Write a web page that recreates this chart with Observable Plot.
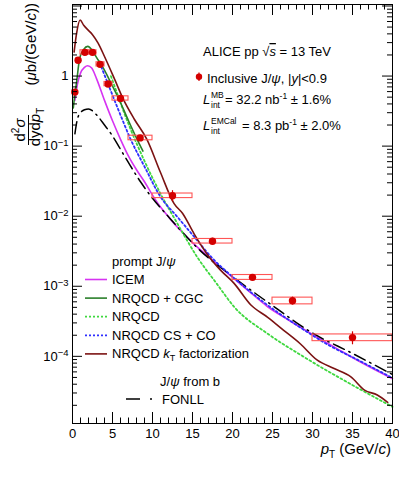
<!DOCTYPE html>
<html><head><meta charset="utf-8">
<script src="https://cdn.jsdelivr.net/npm/d3@7"></script>
<script src="https://cdn.jsdelivr.net/npm/@observablehq/plot@0.6"></script>
<style>
body{margin:0;background:#fff;}
#chart{width:399px;height:487px;}
svg{font-family:"Liberation Sans",Arial,Helvetica,sans-serif;}
</style></head><body><div id="chart"></div>
<script>
// ---- measured data: inclusive J/psi, ALICE pp 13 TeV ----
const binLo  = [0, 0.5, 1, 2, 3, 4, 5, 7, 10, 15, 20, 25, 30];
const binHi  = [0.5, 1, 2, 3, 4, 5, 7, 10, 15, 20, 25, 30, 40];
const ptMean = [0.3, 0.7, 1.55, 2.5, 3.45, 4.45, 6.0, 8.45, 12.5, 17.5, 22.5, 27.5, 35];
const xsec   = [0.59, 1.68, 2.18, 2.18, 1.47, 0.77, 0.48, 0.131, 0.0196, 0.0044, 0.00134, 0.00062, 0.000185];
const statRel = [0.04, 0.04, 0.03, 0.03, 0.03, 0.04, 0.05, 0.06, 0.18, 0.10, 0.09, 0.13, 0.21];
const systRel = [0.07, 0.07, 0.07, 0.07, 0.07, 0.07, 0.07, 0.075, 0.075, 0.075, 0.08, 0.11, 0.11];

// ---- model curves ----
const icemPt  = [0.3, 0.6, 1.0, 1.5, 1.9, 2.4, 3.0, 4.0, 5.0, 6.0, 7.0, 8.0, 9.0, 10, 11, 12, 13, 14, 15, 16, 18, 20, 22, 24.4, 27, 30, 33, 36, 40];
const icemVal = [0.45, 0.75, 1.1, 1.33, 1.4, 1.3, 0.92, 0.45, 0.23, 0.125, 0.072, 0.046, 0.031, 0.02, 0.0135, 0.0098, 0.0072, 0.0055, 0.0042, 0.0033, 0.0021, 0.00134, 0.00086, 0.00051, 0.00033, 0.000205, 0.00013, 0.000083, 0.000048];

const cgcPt  = [0.1, 0.3, 0.5, 0.9, 1.4, 1.9, 2.5, 3.0, 3.75, 4.8, 5.8, 7.0, 8.0, 8.8];
const cgcVal = [0.35, 0.55, 0.8, 1.8, 2.4, 2.65, 2.3, 1.85, 1.36, 0.8, 0.47, 0.23, 0.13, 0.085];

const nrqcdPt  = [4.8, 5.5, 6.5, 7.3, 8.95, 11, 13.1, 15.6, 18, 20.2, 24.4, 28.5, 34, 40];
const nrqcdVal = [1.0, 0.6, 0.29, 0.17, 0.063, 0.021, 0.0079, 0.0026, 0.0011, 0.00051, 0.00021, 0.000105, 0.000045, 0.000019];

const cscoPt  = [3.6, 4.9, 6.1, 7.2, 9.0, 11.0, 13.1, 15.2, 17.5, 20, 24, 28, 32, 36, 40];
const cscoVal = [1.35, 0.57, 0.26, 0.13, 0.051, 0.0189, 0.0098, 0.0051, 0.0025, 0.00137, 0.00058, 0.00028, 0.000145, 0.000085, 0.000049];

const ktPt  = [0.2, 0.5, 0.95, 1.4, 1.9, 2.5, 3.2, 4.0, 5.3, 6.3, 7.75, 9.3, 11, 12.7, 13.75, 15.2, 16.9, 18.5, 20.2, 22.3, 24.4, 26.4, 28.5, 30.6, 32.7, 34.8, 36.5, 38.1, 39.4];
const ktVal = [2.2, 4.0, 6.3, 5.3, 4.6, 3.9, 2.95, 1.9, 0.88, 0.48, 0.24, 0.125, 0.042, 0.0151, 0.011, 0.0056, 0.0028, 0.0017, 0.0011, 0.00054, 0.00036, 0.000235, 0.00015, 0.000088, 0.000067, 0.000051, 0.000033, 0.000028, 0.000022];

const fonllPt  = [0.3, 0.6, 1.0, 1.5, 2.0, 3.0, 4.0, 5.0, 6.0, 7.0, 8.5, 10, 12, 13.5, 16, 20, 25, 30, 35, 40];
const fonllVal = [0.15, 0.24, 0.3, 0.33, 0.34, 0.28, 0.2, 0.14, 0.09, 0.058, 0.031, 0.018, 0.0098, 0.0063, 0.0032, 0.00138, 0.00053, 0.000215, 0.00011, 0.000055];

// ---- axis ticks ----
const xMajor = [0, 5, 10, 15, 20, 25, 30, 35, 40];
const xMinor = d3.range(1, 40).filter(v => v % 5 !== 0);
const yLabels = [1e-4, 1e-3, 1e-2, 1e-1, 1];
const yMajor = [1e-4, 1e-3, 1e-2, 1e-1, 1, 10];
const yDomain = [1.1e-5, 10.5];
const yMinor = [];
for (let e = -5; e <= 0; e++) for (let k = 2; k <= 9; k++) { const v = k * Math.pow(10, e); if (v > yDomain[0] && v < yDomain[1]) yMinor.push(v); }

const toPts = (xs, ys) => xs.map((x, i) => ({x, y: ys[i]}));
const dataPts = ptMean.map((x, i) => ({x, y: xsec[i], lo: binLo[i], hi: binHi[i], s: statRel[i], u: systRel[i]}));

const W = 399, H = 487, mL = 72, mR = 7, mT = 4, mB = 64;
const fw = W - mL - mR, fh = H - mT - mB;

const C = {icem: "#d633f2", cgc: "#2a7f2a", nrqcd: "#3fd83f", csco: "#2f2fff", kt: "#7b1212", fonll: "#000"};
const curveStyles = [
  {name: "icem", pts: toPts(icemPt, icemVal), stroke: C.icem, w: 1.6, dash: null},
  {name: "fonll", pts: toPts(fonllPt, fonllVal), stroke: C.fonll, w: 1.5, dash: "12,5,1.5,5"},
  {name: "nrqcd", pts: toPts(nrqcdPt, nrqcdVal), stroke: C.nrqcd, w: 1.8, dash: "2,2.5"},
  {name: "cgc", pts: toPts(cgcPt, cgcVal), stroke: C.cgc, w: 1.6, dash: null},
  {name: "csco", pts: toPts(cscoPt, cscoVal), stroke: C.csco, w: 1.8, dash: "2,2.5"},
  {name: "kt", pts: toPts(ktPt, ktVal), stroke: C.kt, w: 1.6, dash: null}
];

const plot = Plot.plot({
  width: W, height: H,
  marginLeft: mL, marginRight: mR, marginTop: mT, marginBottom: mB,
  style: {fontSize: "13px", fontFamily: "'Liberation Sans', Arial, sans-serif", color: "#000", background: "#fff"},
  x: {domain: [0, 40], ticks: xMajor, tickSize: 0, tickPadding: 5, tickFormat: d => String(d), label: null},
  y: {type: "log", domain: yDomain, ticks: yLabels, tickSize: 0, tickPadding: 4,
      tickFormat: d => d === 1 ? "1" : "10^" + Math.round(Math.log10(d)), label: null},
  marks: [
    ...curveStyles.map(c => Plot.line(c.pts, {x: "x", y: "y", stroke: c.stroke, strokeWidth: c.w, strokeDasharray: c.dash, curve: "monotone-x"})),
    Plot.rect(dataPts, {x1: "lo", x2: "hi", y1: d => d.y * (1 - d.u), y2: d => d.y * (1 + d.u), fill: "none", stroke: "#ff5555", strokeWidth: 1.1}),
    Plot.ruleX(dataPts, {x: "x", y1: d => d.y * (1 - d.s), y2: d => d.y * (1 + d.s), stroke: "#d40000", strokeWidth: 1.2}),
    Plot.dot(dataPts, {x: "x", y: "y", r: 3.7, fill: "#d40000", stroke: "none"}),
    // ROOT-style inner ticks
    Plot.ruleY(yMajor, {y: d => d, insetRight: fw - 10, stroke: "#000"}),
    Plot.ruleY(yMinor, {y: d => d, insetRight: fw - 5, stroke: "#000"}),
    Plot.ruleY(yMajor, {y: d => d, insetLeft: fw - 10, stroke: "#000"}),
    Plot.ruleY(yMinor, {y: d => d, insetLeft: fw - 5, stroke: "#000"}),
    Plot.ruleX(xMajor, {x: d => d, insetTop: fh - 11, stroke: "#000"}),
    Plot.ruleX(xMinor, {x: d => d, insetTop: fh - 5.5, stroke: "#000"}),
    Plot.ruleX(xMajor, {x: d => d, insetBottom: fh - 11, stroke: "#000"}),
    Plot.ruleX(xMinor, {x: d => d, insetBottom: fh - 5.5, stroke: "#000"}),
    Plot.frame({stroke: "#000", strokeWidth: 1})
  ]
});
document.getElementById("chart").appendChild(plot);

const svg = d3.select(plot);
// superscript exponents on y tick labels
svg.selectAll('g[aria-label="y-axis tick label"] text').each(function() {
  const s = this.textContent;
  if (s.includes("^")) {
    const [b, e] = s.split("^");
    const t = d3.select(this); t.text(null);
    t.append("tspan").text(b);
    t.append("tspan").attr("dy", "-0.5em").attr("font-size", "9.5px").text(e.replace("-", "\u2212"));
  }
});

// helper to build rich text
function rich(parent, x, y, parts, opts = {}) {
  const t = parent.append("text").attr("x", x).attr("y", y).attr("font-size", opts.size || 13)
    .attr("fill", "#000").attr("text-anchor", opts.anchor || "start");
  for (const p of parts) {
    const o = typeof p === "string" ? {t: p} : p;
    const s = t.append("tspan").text(o.t);
    if (o.i) s.attr("font-style", "italic");
    if (o.dy) s.attr("dy", o.dy);
    if (o.fs) s.attr("font-size", o.fs);
    if (o.deco) s.attr("text-decoration", o.deco);
  }
  return t;
}
const g = svg.append("g");

// header text
rich(g, 203, 56, ["ALICE pp ", {t: "\u221A"}, {t: "s", i: true, deco: "overline"}, " = 13 TeV"]);
rich(g, 207, 83, ["Inclusive J/", {t: "\u03C8", i: true}, ", |", {t: "y", i: true}, "|<0.9"]);
g.append("line").attr("x1", 199).attr("x2", 199).attr("y1", 72.5).attr("y2", 81).attr("stroke", "#d40000").attr("stroke-width", 1.2);
g.append("circle").attr("cx", 199).attr("cy", 76.8).attr("r", 3.2).attr("fill", "#d40000");
rich(g, 203, 104, [{t: "L", i: true}]);
rich(g, 211, 98, ["MB"], {size: 8.5});
rich(g, 211, 108, ["int"], {size: 8.5});
rich(g, 225, 104, ["= 32.2 nb", {t: "-1", dy: "-5", fs: "8.5px"}, {t: " \u00B1 1.6%", dy: "5", fs: "13px"}]);
rich(g, 203, 130, [{t: "L", i: true}]);
rich(g, 211, 124, ["EMCal"], {size: 8.5});
rich(g, 211, 134, ["int"], {size: 8.5});
rich(g, 242, 130, ["= 8.3 pb", {t: "-1", dy: "-5", fs: "8.5px"}, {t: " \u00B1 2.0%", dy: "5", fs: "13px"}]);

// legend
rich(g, 112, 266, ["prompt J/", {t: "\u03C8", i: true}]);
const legRows = [
  {c: curveStyles[0], label: ["ICEM"]},
  {c: curveStyles[3], label: ["NRQCD + CGC"]},
  {c: curveStyles[2], label: ["NRQCD"]},
  {c: curveStyles[4], label: ["NRQCD CS + CO"]},
  {c: curveStyles[5], label: ["NRQCD ", {t: "k", i: true}, {t: "T", dy: "3", fs: "9px"}, {t: " factorization", dy: "-3", fs: "13px"}]}
];
legRows.forEach((r, i) => {
  const yb = 284 + i * 18.6;
  g.append("line").attr("x1", 85).attr("x2", 107).attr("y1", yb - 4.5).attr("y2", yb - 4.5)
    .attr("stroke", r.c.stroke).attr("stroke-width", r.c.w).attr("stroke-dasharray", r.c.dash ? "2,2" : null);
  rich(g, 112, yb, r.label);
});
rich(g, 160, 386, ["J/", {t: "\u03C8", i: true}, " from b"]);
g.append("line").attr("x1", 126).attr("x2", 157).attr("y1", 399).attr("y2", 399).attr("stroke", "#000").attr("stroke-width", 1.5).attr("stroke-dasharray", "14,10,2,20");
rich(g, 162, 403.5, ["FONLL"]);

// x title
rich(g, 391, 454, [{t: "p", i: true}, {t: "T", dy: "4", fs: "10px"}, {t: " (GeV/", dy: "-4", fs: "15px"}, {t: "c", i: true}, ")"], {size: 15, anchor: "end"});

// y title (rotated)
const gy = g.append("g").attr("transform", "rotate(-90)");
rich(gy, -3, 36, ["(", {t: "\u03BC", i: true}, "b/(GeV/", {t: "c", i: true}, "))"], {size: 15, anchor: "end"});
rich(gy, -130, 25, ["d", {t: "2", dy: "-6", fs: "10px"}, {t: "\u03C3", dy: "6", fs: "15px", i: true}], {size: 15, anchor: "middle"});
gy.append("line").attr("x1", -145).attr("x2", -115).attr("y1", 28.5).attr("y2", 28.5).attr("stroke", "#000").attr("stroke-width", 1);
rich(gy, -127, 40, ["dyd", {t: "p", i: true}, {t: "T", dy: "4", fs: "10px"}], {size: 15, anchor: "middle"});
</script></body></html>
